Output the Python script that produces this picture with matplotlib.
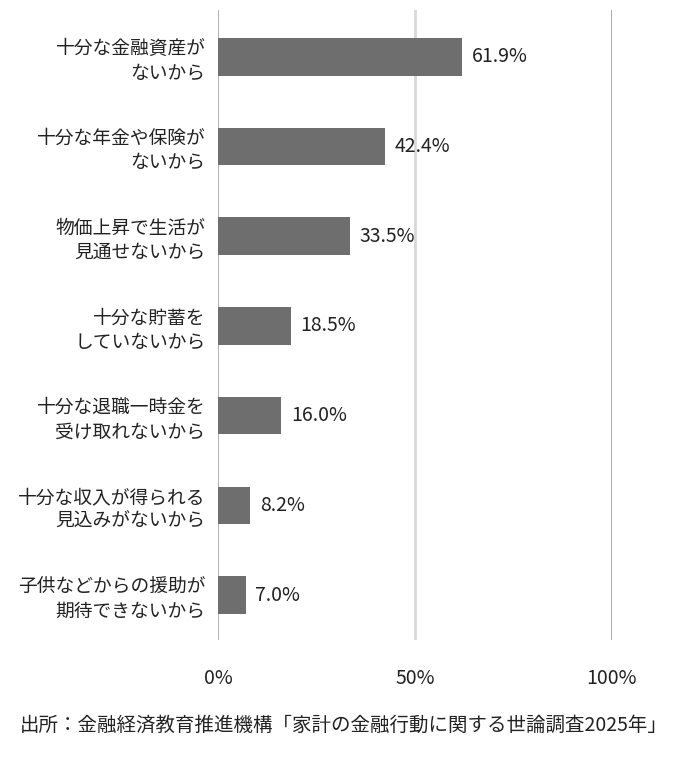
import matplotlib.pyplot as plt

plt.rcParams['font.family'] = ['Noto Sans CJK JP', 'DejaVu Sans']

# -----------------------------
# Data
# -----------------------------
reasons = [
    "十分な金融資産が\nないから",
    "十分な年金や保険が\nないから",
    "物価上昇で生活が\n見通せないから",
    "十分な貯蓄を\nしていないから",
    "十分な退職一時金を\n受け取れないから",
    "十分な収入が得られる\n見込みがないから",
    "子供などからの援助が\n期待できないから",
]
shares = [61.9, 42.4, 33.5, 18.5, 16.0, 8.2, 7.0]
tick_values = [0, 50, 100]
tick_labels = ["0%", "50%", "100%"]
source = "出所：金融経済教育推進機構「家計の金融行動に関する世論調査2025年」"

# -----------------------------
# Plot
# -----------------------------
fig = plt.figure(figsize=(6.78, 7.69), dpi=100)
ax = fig.add_axes([218 / 678, 1 - 640 / 769, (612 - 218) / 678, 630 / 769])

ypos = list(range(len(reasons)))
ax.barh(ypos, shares, height=0.42, color="#6e6e6e", zorder=3)

for y, v in zip(ypos, shares):
    ax.annotate(f"{v:.1f}%", (v, y), xytext=(7, 0), textcoords="offset points",
                va="center", ha="left", fontsize=14, color="#222222")

# gridlines
grid_colors = ["#b4b4b4", "#d8d8d8", "#a4a4a4"]
for x, c in zip(tick_values, grid_colors):
    ax.axvline(x, color=c, linewidth=2 if x else 1.5, zorder=1)

ax.set_xlim(0, 100)
ax.set_ylim(6.5, -0.52)
ax.set_yticks(ypos)
ax.set_yticklabels(reasons, fontsize=13.5, color="#222222", linespacing=1.2)
ax.set_xticks(tick_values)
ax.set_xticklabels(tick_labels, fontsize=14, color="#222222")
ax.tick_params(axis="both", length=0)
ax.tick_params(axis="y", pad=9)
ax.tick_params(axis="x", pad=20)
for s in ax.spines.values():
    s.set_visible(False)

fig.text(20 / 678, 1 - 725 / 769, source, fontsize=14, color="#222222",
         ha="left", va="center")

plt.savefig("out.png", dpi=100)
